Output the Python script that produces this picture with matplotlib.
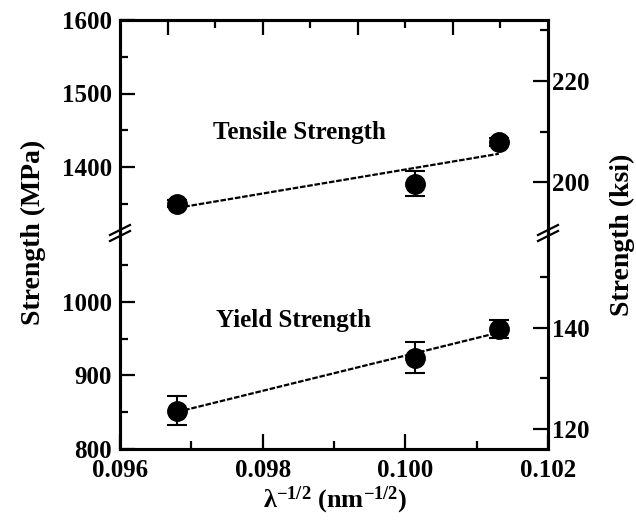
import numpy as np
import matplotlib.pyplot as plt
from matplotlib.lines import Line2D

# data (MPa)
x = [0.0968, 0.10013, 0.10131]
tensile = [1350, 1377, 1434]
tensile_err = [5, 17, 5]
yld = [852, 924, 963]
yld_err = [20, 21, 12]

MPA_PER_KSI = 6.895
W, H = 636, 522

plt.rcParams['font.family'] = 'Liberation Serif'
plt.rcParams['font.weight'] = 'bold'
plt.rcParams['mathtext.fontset'] = 'custom'
plt.rcParams['mathtext.rm'] = 'Liberation Serif:bold'
plt.rcParams['mathtext.it'] = 'Liberation Serif:bold'
plt.rcParams['mathtext.default'] = 'rm'


def fig_xy(px, py):
    return px / W, 1 - py / H


fig = plt.figure(figsize=(W / 100, H / 100), dpi=100)
l, r, t, b, brk = 120, 548, 20, 449, 233
ax_top = fig.add_axes([l / W, 1 - brk / H, (r - l) / W, (brk - t) / H])
ax_bot = fig.add_axes([l / W, 1 - b / H, (r - l) / W, (b - brk) / H])

scale = 0.735  # px per MPa
ax_top.set_ylim(1600 - (brk - t) / scale, 1600)
ax_bot.set_ylim(800, 800 + (b - brk) / scale)

for ax, yv, ye in [(ax_top, tensile, tensile_err), (ax_bot, yld, yld_err)]:
    ax.set_xlim(0.096, 0.102)
    coef = np.polyfit(x, yv, 1)
    xs = np.array([x[0], x[-1]])
    ax.plot(xs, np.polyval(coef, xs), color='k', lw=1.6, ls=(0, (2.5, 0.8)), zorder=1)
    ax.errorbar(x, yv, yerr=ye, fmt='o', color='k', ms=14, capsize=7,
                elinewidth=1.5, capthick=1.5, zorder=3)

tick_kw = dict(direction='in', colors='k', labelsize=18)
# top panel
ax_top.spines['bottom'].set_visible(False)
ax_top.set_yticks([1400, 1500, 1600])
ax_top.set_yticks([1350, 1450, 1550], minor=True)
top_x = np.linspace(0.096, 0.102, 10)
ax_top.set_xticks(top_x[1:9:2])
ax_top.set_xticks(top_x[2:9:2], minor=True)
ax_top.tick_params(axis='x', which='both', bottom=False, top=True,
                   labelbottom=False, direction='in')
# bottom panel
ax_bot.spines['top'].set_visible(False)
ax_bot.set_yticks([800, 900, 1000])
ax_bot.set_yticks([850, 950, 1050], minor=True)
ax_bot.set_xticks([0.096, 0.098, 0.100, 0.102])
ax_bot.set_xticklabels(['0.096', '0.098', '0.100', '0.102'])
ax_bot.set_xticks([0.097, 0.099, 0.101], minor=True)
ax_bot.tick_params(axis='x', which='both', top=False, pad=7)

for ax in (ax_top, ax_bot):
    ax.tick_params(axis='both', which='major', length=11, width=1.6, **tick_kw)
    ax.tick_params(axis='both', which='minor', length=6, width=1.6, direction='in')
    ax.tick_params(axis='y', which='both', right=False, pad=6)
    for s in ax.spines.values():
        s.set_linewidth(2.2)

# right axis in ksi
ax_top_r = ax_top.twinx()
ax_bot_r = ax_bot.twinx()
for ax, axr, major, minor in [(ax_top, ax_top_r, [200, 220], [210, 230]),
                              (ax_bot, ax_bot_r, [120, 140], [130, 150])]:
    lo, hi = ax.get_ylim()
    axr.set_ylim(lo / MPA_PER_KSI, hi / MPA_PER_KSI)
    axr.set_yticks(major)
    axr.set_yticks(minor, minor=True)
    axr.tick_params(axis='y', which='major', length=11, width=1.6, pad=3, **tick_kw)
    axr.tick_params(axis='y', which='minor', length=6, width=1.6, direction='in')
    for s in axr.spines.values():
        s.set_linewidth(2.2)
ax_top_r.spines['bottom'].set_visible(False)
ax_bot_r.spines['top'].set_visible(False)

# break marks on both spines
for cx in (l, r):
    for d in (-3, 3):
        x0, y0 = fig_xy(cx - 10, brk + d + 5)
        x1, y1 = fig_xy(cx + 10, brk + d - 5)
        fig.add_artist(Line2D([x0, x1], [y0, y1], color='k', lw=1.6))

fig.text(*fig_xy(299, 133), 'Tensile Strength', ha='center', va='center', fontsize=18)
fig.text(*fig_xy(294, 320), 'Yield Strength', ha='center', va='center', fontsize=18)
fig.text(*fig_xy(33, 232), 'Strength (MPa)', rotation=90, ha='center', va='center', fontsize=20)
fig.text(*fig_xy(622, 235), 'Strength (ksi)', rotation=90, ha='center', va='center', fontsize=20)
fig.text(*fig_xy(335, 500), r'$\lambda^{-1/2}$ (nm$^{-1/2}$)', ha='center', va='center', fontsize=19)

fig.savefig('out.png', dpi=100)
